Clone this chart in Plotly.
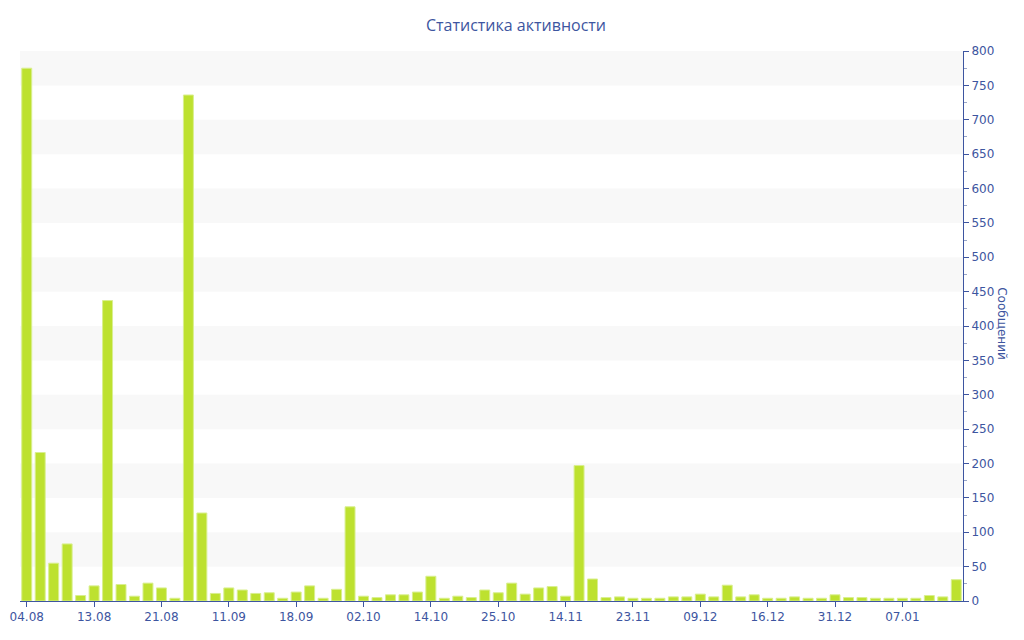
import plotly.graph_objects as go

# Сообщений по дням (70 столбцов), подписи каждые 5 столбцов
messages = [775, 216, 55, 83, 8, 22, 437, 24, 7, 26,
            19, 4, 736, 128, 11, 19, 16, 11, 12, 4,
            13, 22, 4, 17, 137, 7, 5, 9, 9, 13,
            36, 4, 7, 5, 16, 12, 26, 10, 19, 21,
            7, 197, 32, 5, 6, 4, 4, 4, 6, 6,
            10, 6, 23, 6, 9, 4, 4, 6, 4, 4,
            9, 5, 5, 4, 4, 4, 4, 8, 6, 31]
tick_pos = list(range(0, 70, 5))
tick_labels = ["04.08", "13.08", "21.08", "11.09", "18.09", "02.10", "14.10",
               "25.10", "14.11", "23.11", "09.12", "16.12", "31.12", "07.01"]

blue = "#3d55a0"

fig = go.Figure()
fig.add_trace(go.Bar(
    x=list(range(len(messages))),
    y=messages,
    marker=dict(color="#bde12f", line=dict(color="#d9ef8f", width=1)),
    hoverinfo="y",
))

# чередующиеся полосы фона
for y0 in range(50, 800, 100):
    fig.add_shape(type="rect", xref="paper", yref="y", x0=0, x1=1, y0=y0, y1=y0 + 50,
                  fillcolor="#f8f8f8", line_width=0, layer="below")

# страница добавляет отступ 8px, поэтому размер чуть меньше окна
fig.update_layout(
    title=dict(text="Статистика активности", x=0.5, xanchor="center",
               y=0.973, yanchor="middle",
               font=dict(family="Open Sans", size=16, color=blue)),
    width=1016, height=632,
    margin=dict(l=12, r=61, t=43, b=39, autoexpand=False),
    plot_bgcolor="white", paper_bgcolor="white",
    font=dict(family="DejaVu Sans", size=12, color=blue),
    bargap=0.26,
    showlegend=False,
    annotations=[dict(text="Сообщений", textangle=90, xref="paper", yref="paper",
                      x=1.042, y=0.504, xanchor="center", yanchor="middle", showarrow=False,
                      font=dict(family="DejaVu Sans", size=12, color=blue))],
)

fig.update_xaxes(
    range=[-0.5, 69.5],
    tickmode="array", tickvals=tick_pos, ticktext=tick_labels,
    showline=True, linecolor=blue, linewidth=1,
    ticks="outside", ticklen=5, tickcolor=blue,
    showgrid=False, zeroline=False,
)
fig.update_yaxes(
    side="right", range=[0, 800], dtick=50,
    showline=True, linecolor=blue, linewidth=1,
    ticks="outside", ticklen=5, tickcolor=blue,
    minor=dict(dtick=25, ticks="outside", ticklen=3, tickcolor="#9aa6c8", showgrid=False),
    showgrid=False, zeroline=False,
)

fig.write_html("out.html")
